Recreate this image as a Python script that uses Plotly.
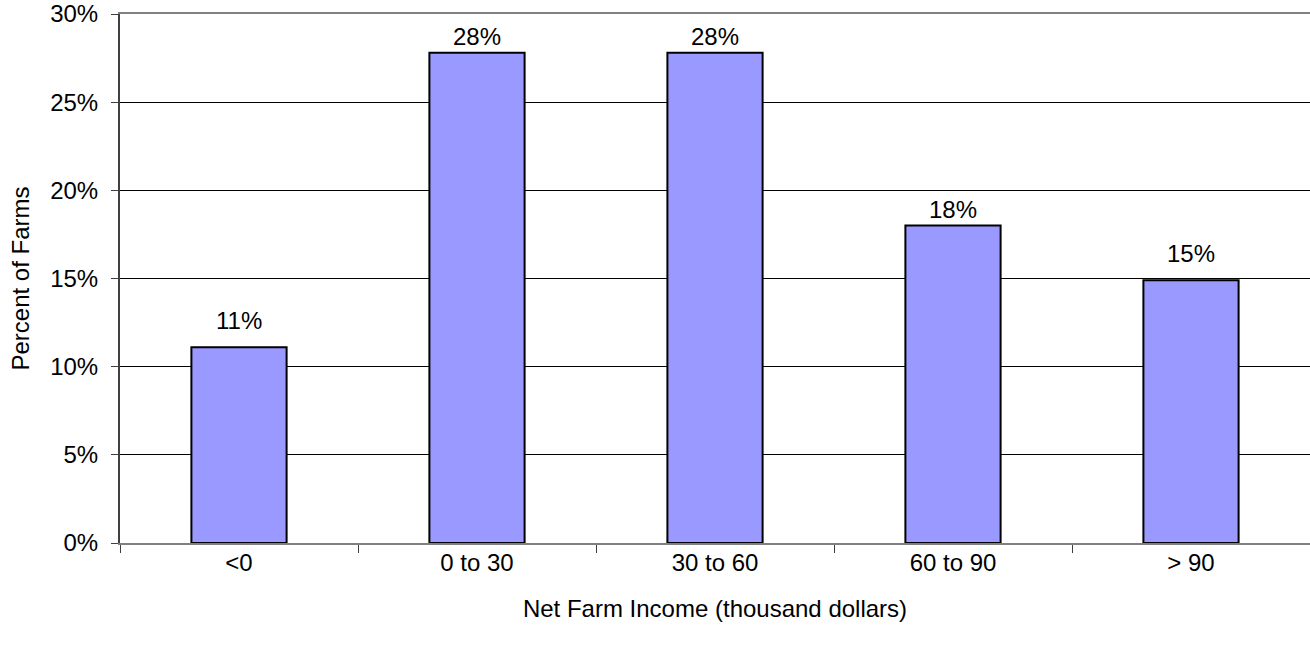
import plotly.graph_objects as go

categories = ["<0", "0 to 30", "30 to 60", "60 to 90", "> 90"]
percent_of_farms = [0.111, 0.278, 0.278, 0.180, 0.149]
label_texts = ["11%", "28%", "28%", "18%", "15%"]
y_tick_values = [0, 0.05, 0.10, 0.15, 0.20, 0.25, 0.30]
y_tick_labels = ["0%", "5%", "10%", "15%", "20%", "25%", "30%"]

# extra lift of each data label above its bar (pixels), as in the reference
label_lift = [11, 1, 1, 1, 11]

FONT = "Liberation Sans, Arial, sans-serif"
FS = 24

fig = go.Figure(
    go.Bar(
        x=categories,
        y=percent_of_farms,
        marker=dict(color="#9999FF", line=dict(color="black", width=2)),
        width=0.4,
    )
)

for cat, val, txt, lift in zip(categories, percent_of_farms, label_texts, label_lift):
    fig.add_annotation(
        x=cat, y=val, text=txt, showarrow=False,
        xref="x", yref="y", yanchor="bottom", yshift=lift,
        font=dict(family=FONT, size=FS, color="black"),
    )

fig.update_layout(
    width=1310,
    height=649,
    margin=dict(l=120, r=0, t=14, b=106),
    plot_bgcolor="white",
    paper_bgcolor="white",
    showlegend=False,
    font=dict(family=FONT, size=FS, color="black"),
    bargap=0.6,
)

fig.update_xaxes(
    showline=True,
    linecolor="#808080",
    linewidth=2,
    mirror=True,
    ticks="outside",
    tickson="boundaries",
    ticklen=8,
    tickcolor="#404040",
    tickwidth=1,
    showgrid=False,
    ticklabelstandoff=-3,
    tickfont=dict(family=FONT, size=FS, color="black"),
    title=dict(text="Net Farm Income (thousand dollars)", font=dict(family=FONT, size=FS, color="black"), standoff=25),
)

fig.update_yaxes(
    range=[0, 0.30],
    tickvals=y_tick_values,
    ticktext=y_tick_labels,
    showline=True,
    linecolor="#404040",
    linewidth=2,
    ticks="outside",
    ticklen=7,
    tickcolor="#404040",
    showgrid=True,
    gridcolor="black",
    gridwidth=1,
    zeroline=False,
    ticklabelstandoff=8,
    tickfont=dict(family=FONT, size=FS, color="black"),
    title=dict(text="Percent of Farms", font=dict(family=FONT, size=FS, color="black"), standoff=14),
)

fig.write_html("out.html")
